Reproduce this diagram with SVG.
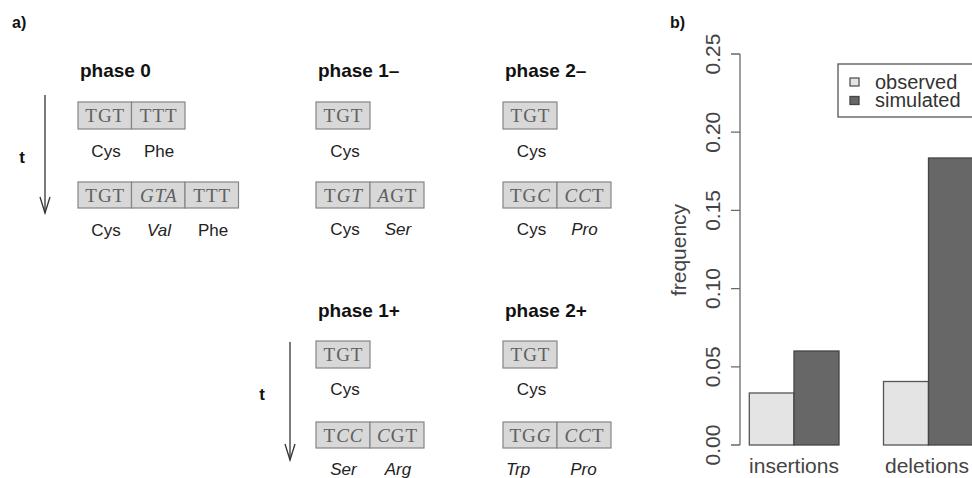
<svg xmlns="http://www.w3.org/2000/svg" width="972" height="478" viewBox="0 0 972 478">
<defs>
<style>
.cell{fill:#d8d8d8;stroke:#858585;stroke-width:1.2}
.cod{font-family:"Liberation Serif","Times New Roman",serif;font-size:19px;letter-spacing:1px;fill:#606060;text-anchor:middle}
.it{font-style:italic}
.aa{font-family:"Liberation Sans",Arial,sans-serif;font-size:17px;fill:#222;text-anchor:middle}
.ttl{font-family:"Liberation Sans",Arial,sans-serif;font-size:19px;font-weight:bold;fill:#111}
.pl{font-family:"Liberation Sans",Arial,sans-serif;font-size:16px;font-weight:bold;fill:#111}
.tl{font-family:"Liberation Sans",Arial,sans-serif;font-size:17px;font-weight:bold;fill:#111;text-anchor:middle}
.arr{stroke:#333;stroke-width:1.3;fill:none}
.ax{stroke:#6a6a6a;stroke-width:1.3;fill:none}
.num{font-family:"Liberation Sans",Arial,sans-serif;font-size:21px;fill:#444;text-anchor:middle}
.leg{font-family:"Liberation Sans",Arial,sans-serif;font-size:20px;fill:#333}
.obs{fill:#e4e4e4;stroke:#555;stroke-width:1.3}
.sim{fill:#676767;stroke:#444;stroke-width:1.3}
</style>
<marker id="vhead" markerUnits="userSpaceOnUse" markerWidth="20" markerHeight="14" refX="0" refY="0" orient="auto" overflow="visible">
<path d="M-16,-5 L0,0 L-16,5" fill="none" stroke="#333" stroke-width="1.3"/>
</marker>
</defs>
<rect width="972" height="478" fill="#fff"/>

<text class="pl" x="12" y="28">a)</text>
<text class="pl" x="670" y="28">b)</text>

<g id="connectors">
<line class="arr" x1="45" y1="95" x2="45" y2="213" marker-end="url(#vhead)"/>
<line class="arr" x1="290" y1="342" x2="290" y2="460" marker-end="url(#vhead)"/>
</g>
<text class="tl" x="22" y="163">t</text>
<text class="tl" x="262" y="400">t</text>

<g id="phase0">
<text class="ttl" x="80" y="77">phase 0</text>
<g id="phase0-before">
<rect class="cell" x="78" y="102" width="53.5" height="27"/>
<rect class="cell" x="131.5" y="102" width="53.5" height="27"/>
<text class="cod" x="105.25" y="122">TGT</text>
<text class="cod" x="158.75" y="122">TTT</text>
<text class="aa" x="106" y="157">Cys</text>
<text class="aa" x="159" y="157">Phe</text>
</g>
<g id="phase0-after">
<rect class="cell" x="78" y="182" width="53.5" height="26"/>
<rect class="cell" x="131.5" y="182" width="53.5" height="26"/>
<rect class="cell" x="185" y="182" width="53.5" height="26"/>
<text class="cod" x="105.25" y="201.5">TGT</text>
<text class="cod it" x="158.75" y="201.5">GTA</text>
<text class="cod" x="212.25" y="201.5">TTT</text>
<text class="aa" x="106" y="236">Cys</text>
<text class="aa it" x="159" y="236">Val</text>
<text class="aa" x="213" y="236">Phe</text>
</g>
</g>

<g id="phase1minus">
<text class="ttl" x="318" y="77">phase 1–</text>
<g id="phase1minus-before">
<rect class="cell" x="316" y="102" width="54" height="27"/>
<text class="cod" x="343.5" y="122">TGT</text>
<text class="aa" x="345" y="157">Cys</text>
</g>
<g id="phase1minus-after">
<rect class="cell" x="316" y="182" width="54" height="26"/>
<rect class="cell" x="370" y="182" width="54" height="26"/>
<text class="cod" x="343.5" y="201.5">T<tspan class="it">GT</tspan></text>
<text class="cod" x="397.5" y="201.5"><tspan class="it">A</tspan>GT</text>
<text class="aa" x="345" y="235">Cys</text>
<text class="aa it" x="398" y="235">Ser</text>
</g>
</g>

<g id="phase2minus">
<text class="ttl" x="505" y="77">phase 2–</text>
<g id="phase2minus-before">
<rect class="cell" x="503" y="102" width="54" height="27"/>
<text class="cod" x="530.5" y="122">TGT</text>
<text class="aa" x="531.5" y="157">Cys</text>
</g>
<g id="phase2minus-after">
<rect class="cell" x="503" y="182" width="54" height="26"/>
<rect class="cell" x="557" y="182" width="54" height="26"/>
<text class="cod" x="530.5" y="201.5">TG<tspan class="it">C</tspan></text>
<text class="cod" x="584.5" y="201.5"><tspan class="it">CC</tspan>T</text>
<text class="aa" x="531.5" y="235">Cys</text>
<text class="aa it" x="584.5" y="235">Pro</text>
</g>
</g>

<g id="phase1plus">
<text class="ttl" x="318" y="316.5">phase 1+</text>
<g id="phase1plus-before">
<rect class="cell" x="316" y="341" width="54" height="27"/>
<text class="cod" x="343.5" y="361">TGT</text>
<text class="aa" x="345" y="395">Cys</text>
</g>
<g id="phase1plus-after">
<rect class="cell" x="316" y="422" width="54" height="26"/>
<rect class="cell" x="370" y="422" width="54" height="26"/>
<text class="cod" x="343.5" y="441.5">T<tspan class="it">CC</tspan></text>
<text class="cod" x="397.5" y="441.5"><tspan class="it">C</tspan>GT</text>
<text class="aa it" x="343.5" y="475">Ser</text>
<text class="aa it" x="398" y="475">Arg</text>
</g>
</g>

<g id="phase2plus">
<text class="ttl" x="505" y="316.5">phase 2+</text>
<g id="phase2plus-before">
<rect class="cell" x="503" y="341" width="54" height="27"/>
<text class="cod" x="530.5" y="361">TGT</text>
<text class="aa" x="531.5" y="395">Cys</text>
</g>
<g id="phase2plus-after">
<rect class="cell" x="503" y="422" width="54" height="26"/>
<rect class="cell" x="557" y="422" width="54" height="26"/>
<text class="cod" x="530.5" y="441.5">TG<tspan class="it">G</tspan></text>
<text class="cod" x="584.5" y="441.5"><tspan class="it">CC</tspan>T</text>
<text class="aa it" x="518" y="475">Trp</text>
<text class="aa it" x="583.5" y="475">Pro</text>
</g>
</g>

<g id="chart">
<g id="axis">
<path class="ax" d="M740,54 V445 M731,445 H740 M731,366.8 H740 M731,288.6 H740 M731,210.4 H740 M731,132.2 H740 M731,54 H740"/>
<text class="num" transform="translate(720,445) rotate(-90)">0.00</text>
<text class="num" transform="translate(720,366.8) rotate(-90)">0.05</text>
<text class="num" transform="translate(720,288.6) rotate(-90)">0.10</text>
<text class="num" transform="translate(720,210.4) rotate(-90)">0.15</text>
<text class="num" transform="translate(720,132.2) rotate(-90)">0.20</text>
<text class="num" transform="translate(720,54) rotate(-90)">0.25</text>
<text class="num" transform="translate(686,250) rotate(-90)">frequency</text>
</g>
<g id="insertions">
<rect class="obs" x="749.3" y="393" width="44.7" height="52"/>
<rect class="sim" x="794" y="351" width="45" height="94"/>
<text class="num" x="794" y="473">insertions</text>
</g>
<g id="deletions">
<rect class="obs" x="883.5" y="381.5" width="45" height="63.5"/>
<rect class="sim" x="928.5" y="158" width="45" height="287"/>
<text class="num" x="927" y="473">deletions</text>
</g>
<g id="legend">
<rect x="838" y="64" width="150" height="53" fill="#fff" stroke="#555" stroke-width="1.3"/>
<rect class="obs" x="850" y="78" width="9" height="8"/>
<rect class="sim" x="850" y="96.5" width="9" height="8"/>
<text class="leg" x="875" y="89">observed</text>
<text class="leg" x="875" y="107">simulated</text>
</g>
</g>
</svg>
